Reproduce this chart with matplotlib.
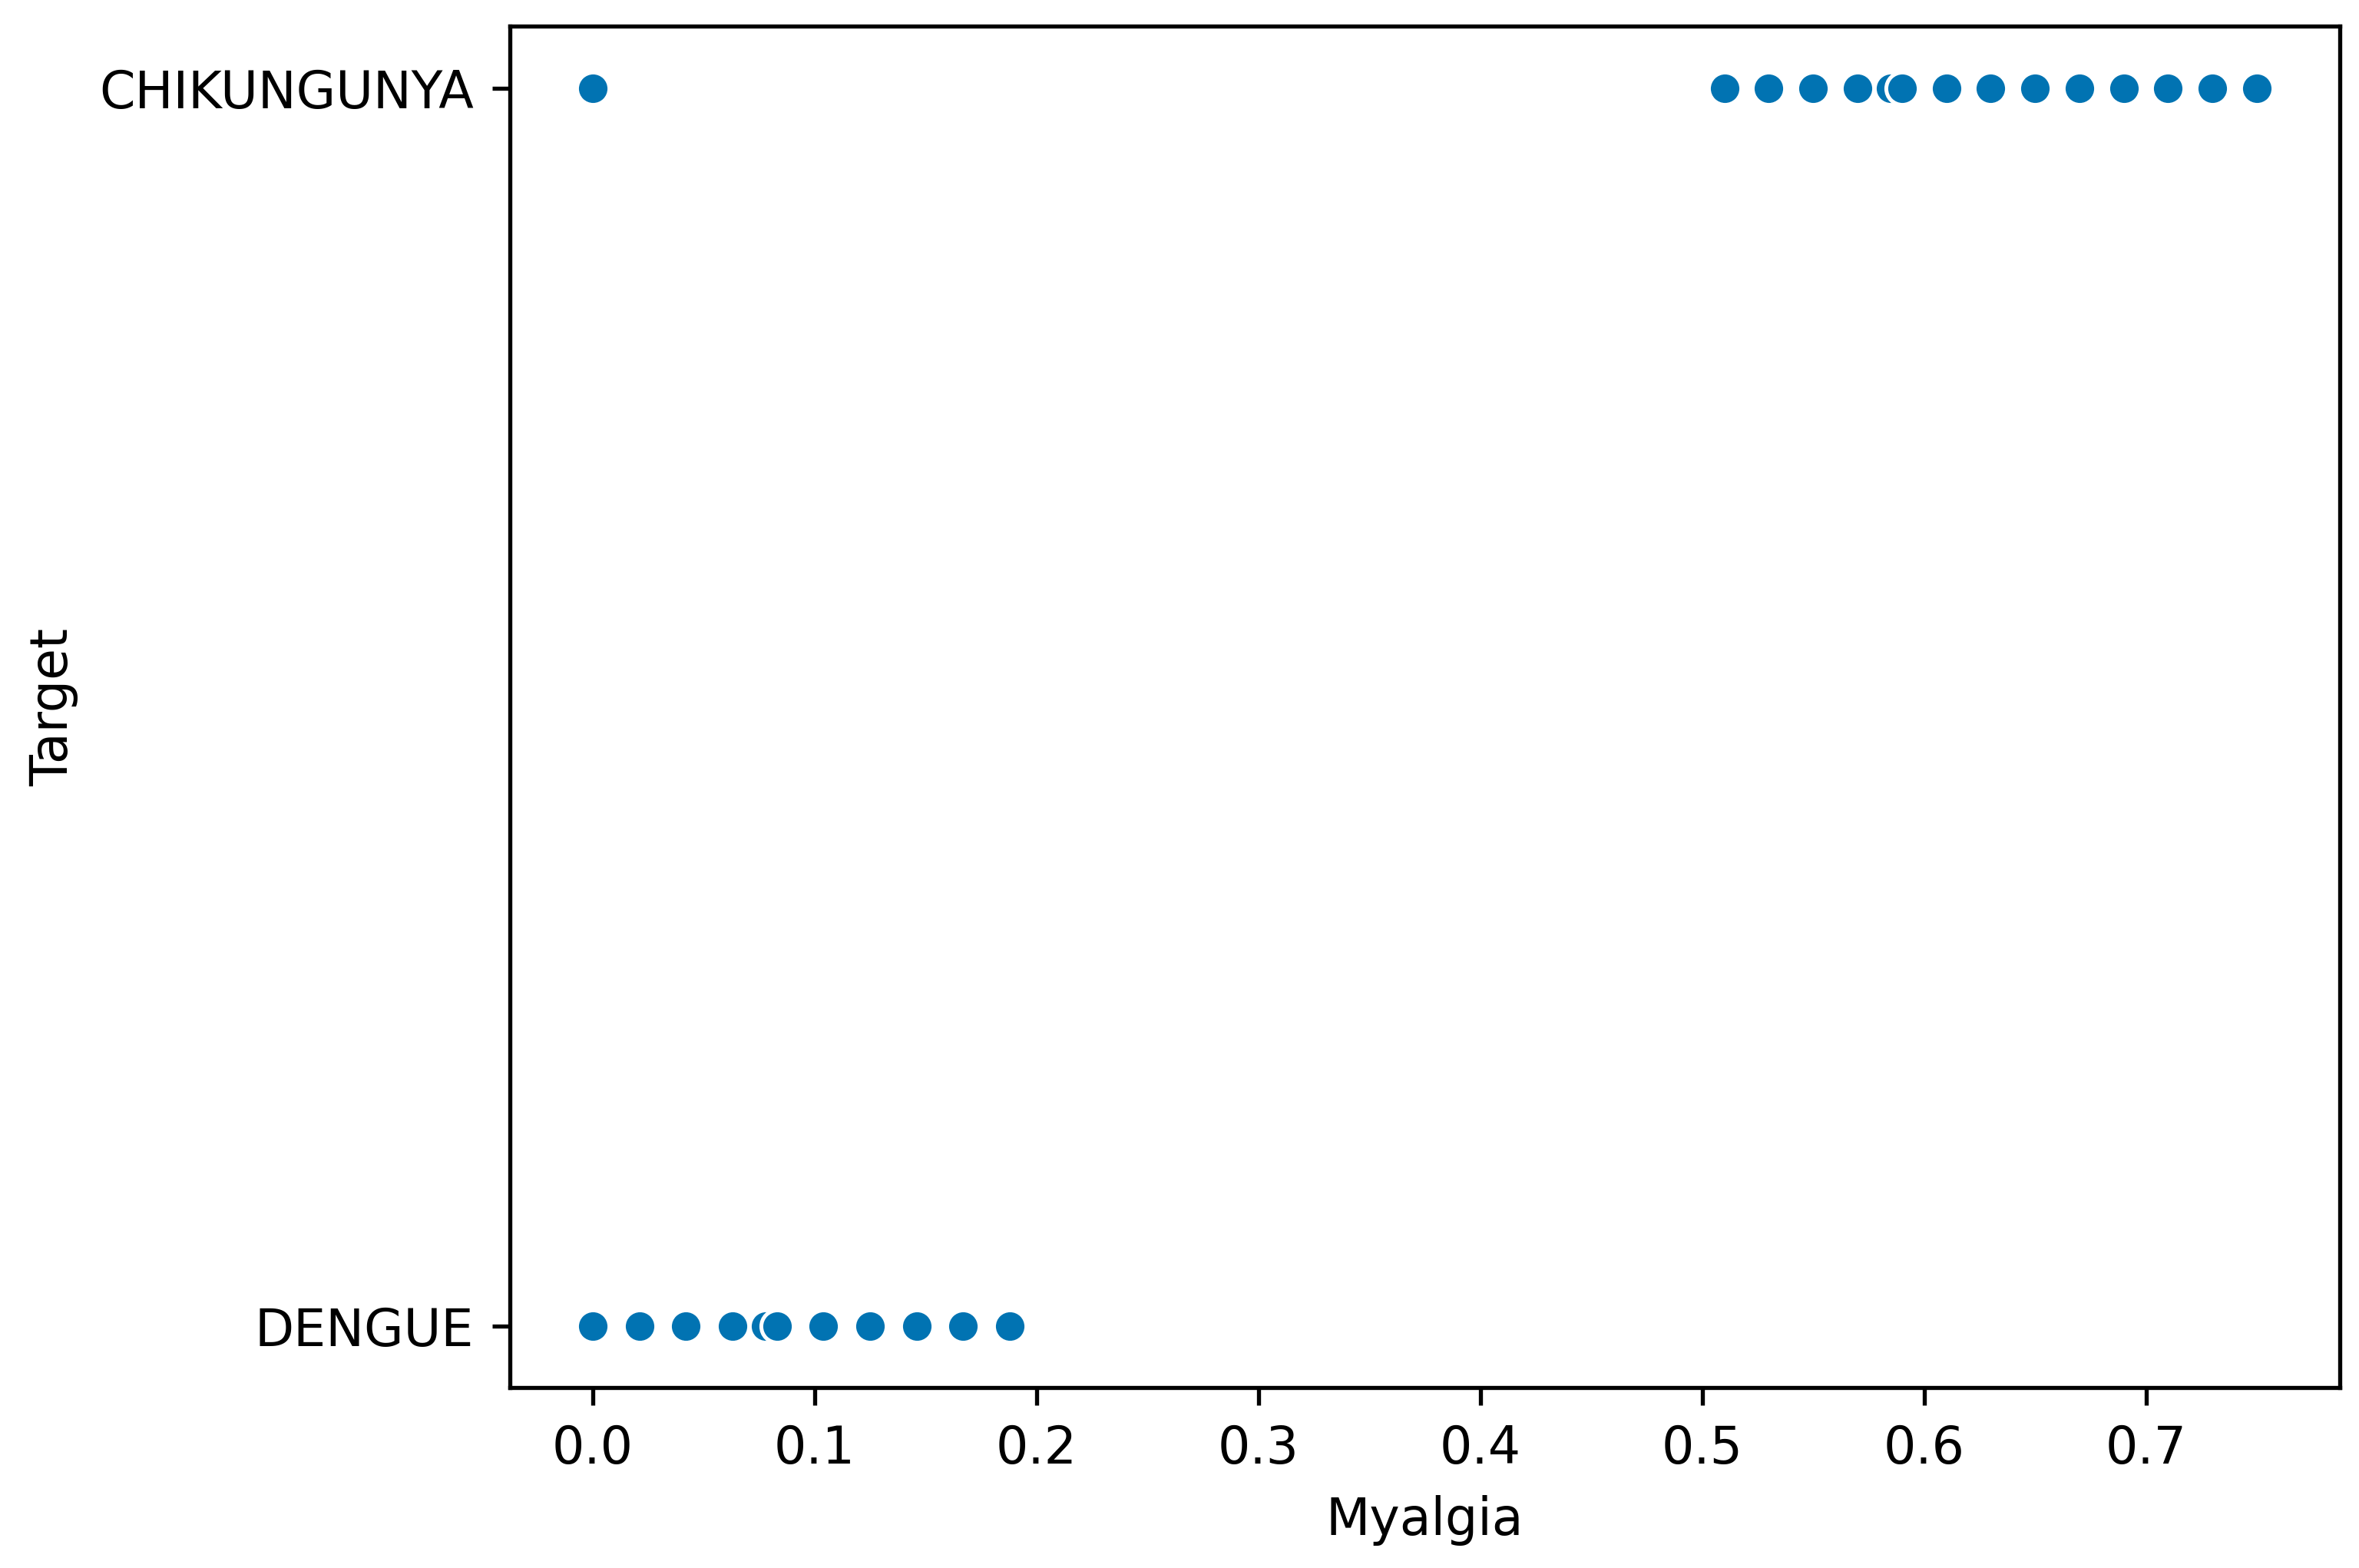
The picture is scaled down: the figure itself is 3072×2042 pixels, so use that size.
import matplotlib
matplotlib.use("Agg")
import matplotlib.pyplot as plt

categories = ["DENGUE", "CHIKUNGUNYA"]
chik_myalgia = [0.0, 0.51, 0.53, 0.55, 0.57, 0.585, 0.59, 0.61, 0.63, 0.65,
                0.67, 0.69, 0.71, 0.73, 0.75]
dengue_myalgia = [0.0, 0.021, 0.042, 0.063, 0.078, 0.083, 0.104, 0.125,
                  0.146, 0.167, 0.188]

fig = plt.figure(figsize=(6.4, 4.255), dpi=480)
ax = fig.add_axes([0.216, 0.115, 0.776, 0.868])

x = dengue_myalgia + chik_myalgia
y = [categories[0]] * len(dengue_myalgia) + [categories[1]] * len(chik_myalgia)
ax.scatter(x, y, s=40, color="#0173b2", edgecolor="white", linewidth=0.75, zorder=3)

ax.set_xlabel("Myalgia", fontsize=10)
ax.set_ylabel("Target", fontsize=10)
ax.tick_params(labelsize=10)
ax.set_xticks([0.0, 0.1, 0.2, 0.3, 0.4, 0.5, 0.6, 0.7])

fig.savefig("out.png", dpi=480)
